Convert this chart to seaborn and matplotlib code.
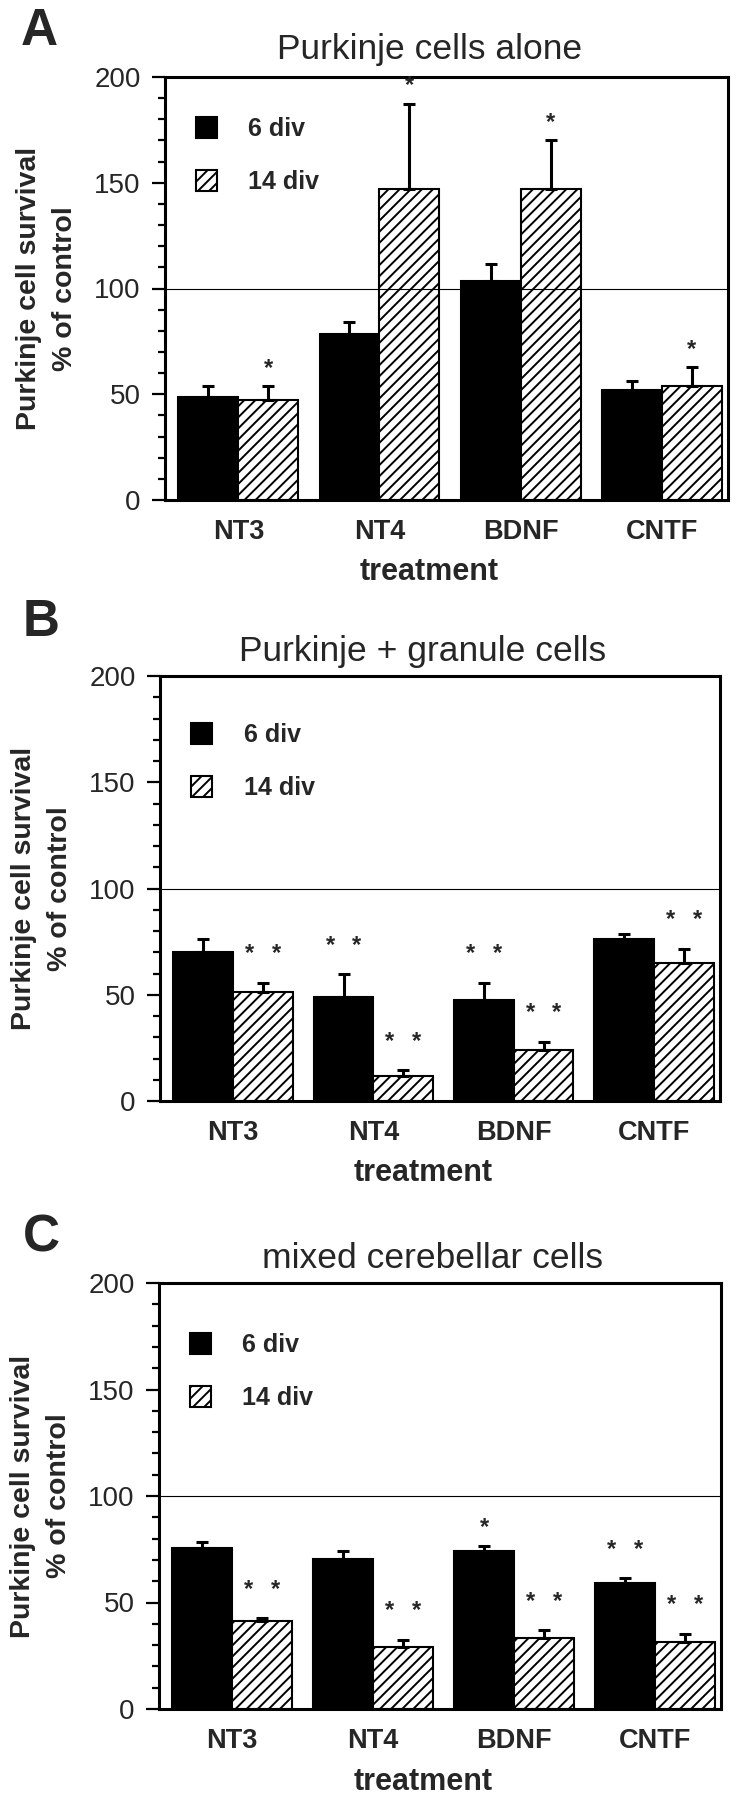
import numpy as np
import pandas as pd
import seaborn as sns
import matplotlib.pyplot as plt
from matplotlib.ticker import MultipleLocator

# Data (% of control, bar height and upper error)
treatments = ['NT3', 'NT4', 'BDNF', 'CNTF']
groups = ['6 div', '14 div']

a_6 = [48.6, 78.5, 103.4, 52.2]
a_6_err = [5.1, 5.5, 8.1, 4.0]
a_14 = [47.1, 147.2, 147.2, 53.7]
a_14_err = [6.6, 40.1, 22.8, 9.0]
a_stars_6 = ['', '', '', '']
a_stars_14 = ['*', '*', '*', '*']

b_6 = [69.9, 48.8, 47.5, 76.2]
b_6_err = [6.5, 10.8, 8.0, 2.4]
b_14 = [51.5, 11.7, 24.0, 65.0]
b_14_err = [4.1, 2.8, 3.8, 6.7]
b_stars_6 = ['', '**', '**', '']
b_stars_14 = ['**', '**', '**', '**']

c_6 = [75.8, 70.3, 74.3, 59.0]
c_6_err = [2.4, 3.9, 2.2, 2.4]
c_14 = [41.5, 28.9, 33.2, 31.6]
c_14_err = [1.1, 3.6, 3.7, 3.8]
c_stars_6 = ['', '', '*', '**']
c_stars_14 = ['**', '**', '**', '**']

titles = ['Purkinje cells alone', 'Purkinje + granule cells', 'mixed cerebellar cells']
letters = ['A', 'B', 'C']

sns.set_style('ticks')
plt.rcParams['font.family'] = ['Liberation Sans', 'DejaVu Sans']
plt.rcParams['hatch.linewidth'] = 1.4

fig = plt.figure(figsize=(7.36, 18), dpi=100)
W, H = 736, 1800


def px_axes(left, top, right, bottom):
    return fig.add_axes([left / W, 1 - bottom / H, (right - left) / W, (bottom - top) / H])


# layout in pixels: axes box, title position, legend offset from top, panel letter
panels = [
    dict(box=(165, 77, 728, 500), vals=(a_6, a_14), errs=(a_6_err, a_14_err),
         stars=(a_stars_6, a_stars_14), tx=0.47, ty=1.043, leg=40, letter=(21, 45)),
    dict(box=(160, 676, 720, 1101), vals=(b_6, b_14), errs=(b_6_err, b_14_err),
         stars=(b_stars_6, b_stars_14), tx=0.468, ty=1.035, leg=47, letter=(23, 636)),
    dict(box=(159, 1283, 721, 1709), vals=(c_6, c_14), errs=(c_6_err, c_14_err),
         stars=(c_stars_6, c_stars_14), tx=0.4875, ty=1.035, leg=50, letter=(23, 1252)),
]

for i, p in enumerate(panels):
    ax = px_axes(*p['box'])
    aw = p['box'][2] - p['box'][0]
    ah = p['box'][3] - p['box'][1]
    df = pd.DataFrame({
        'treatment': treatments * 2,
        'div': [groups[0]] * 4 + [groups[1]] * 4,
        'survival': p['vals'][0] + p['vals'][1],
    })
    sns.barplot(data=df, x='treatment', y='survival', hue='div', order=treatments,
                hue_order=groups, palette=['black', 'white'], saturation=1,
                edgecolor='black', linewidth=1.5, width=0.85, errorbar=None,
                legend=False, ax=ax)
    bars = list(ax.containers[:2])

    # hatch the 14 div bars
    for bar in bars[1]:
        bar.set_hatch('///')
        bar.set_facecolor('white')
        bar.set_edgecolor('black')

    # one-sided error bars and significance stars
    for k, cont in enumerate(bars):
        for bar, e, s in zip(cont, p['errs'][k], p['stars'][k]):
            x = bar.get_x() + bar.get_width() / 2
            h = bar.get_height()
            ax.errorbar(x, h, yerr=[[0], [e]], fmt='none', ecolor='black',
                        elinewidth=2.2, capsize=4.5, capthick=2.2, zorder=3)
            if s == '*':
                ax.annotate('*', (x, h + e), xytext=(0, 13), textcoords='offset points',
                            ha='center', va='center', fontsize=17, fontweight='bold')
            elif s == '**':
                for dx in (-9.7, 9.7):
                    ax.annotate('*', (x, h + e), xytext=(dx, 21), textcoords='offset points',
                                ha='center', va='center', fontsize=17, fontweight='bold')

    ax.axhline(100, color='black', lw=0.8, zorder=4)

    ax.set_ylim(0, 200)
    ax.set_xlim(-0.52, 3.47)
    ax.yaxis.set_major_locator(MultipleLocator(50))
    ax.yaxis.set_minor_locator(MultipleLocator(10))
    ax.tick_params(axis='y', which='major', direction='out', length=9.4, width=1.6,
                   labelsize=20, pad=8, color='black')
    ax.tick_params(axis='y', which='minor', direction='out', length=5, width=1.6, color='black')
    ax.tick_params(axis='x', length=0, pad=14)
    for lab in ax.get_xticklabels():
        lab.set_fontweight('bold')
        lab.set_fontsize(19.5)
    for sp in ax.spines.values():
        sp.set_linewidth(2.2)
        sp.set_color('black')

    ax.set_xlabel('treatment', fontsize=22, fontweight='bold')
    ax.xaxis.set_label_coords(0.47, -0.135)
    ax.set_ylabel('Purkinje cell survival\n% of control', fontsize=20.5,
                  fontweight='bold', linespacing=1.5)
    ax.yaxis.set_label_coords(-0.155, 0.5)

    ax.text(p['tx'], p['ty'], titles[i], transform=ax.transAxes, ha='center',
            va='baseline', fontsize=25.5)

    ax.legend([bars[0][0], bars[1][0]], groups, loc='upper left', frameon=False,
              bbox_to_anchor=(31 / aw, 1 - p['leg'] / ah),
              borderaxespad=0, borderpad=0, handlelength=0.85, handleheight=0.9,
              handletextpad=1.25, labelspacing=1.15, prop={'weight': 'bold', 'size': 18})

    fig.text(p['letter'][0] / W, 1 - p['letter'][1] / H, letters[i], fontsize=37,
             fontweight='bold', ha='left', va='baseline')

fig.savefig('out.png', dpi=100)
